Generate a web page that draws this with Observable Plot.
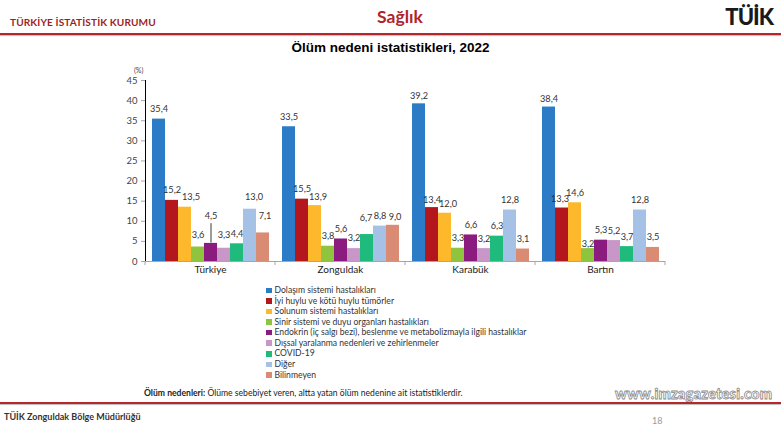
<!DOCTYPE html>
<html><head><meta charset="utf-8">
<script src="https://cdn.jsdelivr.net/npm/d3@7"></script>
<script src="https://cdn.jsdelivr.net/npm/@observablehq/plot@0.6"></script>
<style>
html,body{margin:0;padding:0;background:#fff}
#page{position:relative;width:781px;height:439px;overflow:hidden;font-family:Lato,"Open Sans",sans-serif}
.abs{position:absolute;white-space:nowrap}
#org{left:10px;top:16px;font-size:10.1px;font-weight:700;color:#9b1f24;letter-spacing:0.1px}
#sect{left:0;width:800px;text-align:center;top:6px;font-size:17.5px;font-weight:700;color:#b0242b}
#logo{right:8px;top:3px;font-size:22px;font-weight:900;color:#1a1a1a;letter-spacing:-1px}
#rule1{left:0;top:33px;width:781px;height:1.5px;background:#b8262d;box-shadow:0 1px 1px #bbb}
#title{left:0;width:781px;text-align:center;top:40px;font-family:"Liberation Sans",Arial,sans-serif;font-size:13.5px;font-weight:700;color:#000}
#pct{left:134px;top:66px;font-size:7px;color:#444}
#chart{position:absolute;left:0;top:0}
#legend{left:266px;top:285px;font-size:8.6px;color:#333}
#legend .row{height:10.58px;line-height:10.58px;display:flex;align-items:center}
#legend .sw{width:5.5px;height:5.5px;margin-right:3px}
#note{left:144px;top:388px;font-size:8.6px;color:#222}
#wm{left:615px;top:385px;font-size:14.6px;font-weight:900;color:#fff;-webkit-text-stroke:0.8px #8a8a8a;letter-spacing:0.2px}
#rule2{left:0;top:402px;width:781px;height:1.5px;background:#b8262d;box-shadow:0 1px 1px #bbb}
#foot{left:4px;top:411px;font-size:9px;font-weight:700;color:#333}
#page18{left:652px;top:415px;font-size:9px;color:#999}
</style></head><body>
<div id="page">
  <div class="abs" id="org">TÜRKİYE İSTATİSTİK KURUMU</div>
  <div class="abs" id="sect">Sağlık</div>
  <div class="abs" id="logo">TÜİK</div>
  <div class="abs" id="rule1"></div>
  <div class="abs" id="title">Ölüm nedeni istatistikleri, 2022</div>
  <div id="chart"></div>
  <div class="abs" id="pct">(%)</div>
  <div class="abs" id="legend"></div>
  <div class="abs" id="note"><b>Ölüm nedenleri:</b> Ölüme sebebiyet veren, altta yatan ölüm nedenine ait istatistiklerdir.</div>
  <div class="abs" id="wm">www.imzagazetesi.com</div>
  <div class="abs" id="rule2"></div>
  <div class="abs" id="foot">TÜİK Zonguldak Bölge Müdürlüğü</div>
  <div class="abs" id="page18">18</div>
</div>
<script>
const regions = ["Türkiye", "Zonguldak", "Karabük", "Bartın"];
const causes = [
  "Dolaşım sistemi hastalıkları",
  "İyi huylu ve kötü huylu tümörler",
  "Solunum sistemi hastalıkları",
  "Sinir sistemi ve duyu organları hastalıkları",
  "Endokrin (iç salgı bezi), beslenme ve metabolizmayla ilgili hastalıklar",
  "Dışsal yaralanma nedenleri ve zehirlenmeler",
  "COVID-19",
  "Diğer",
  "Bilinmeyen"
];
const colors = ["#2c7bc6", "#b3161c", "#fdb92b", "#8fc43e", "#8c1b7f", "#c996c8", "#1fbb7c", "#a5c1e5", "#da8b74"];
const yTicks = [0, 5, 10, 15, 20, 25, 30, 35, 40, 45];

// values per cause, in region order: Türkiye, Zonguldak, Karabük, Bartın
const dolasim   = [35.4, 33.5, 39.2, 38.4];
const tumor     = [15.2, 15.5, 13.4, 13.3];
const solunum   = [13.5, 13.9, 12.0, 14.6];
const sinir     = [3.6, 3.8, 3.3, 3.2];
const endokrin  = [4.5, 5.6, 6.6, 5.3];
const dissal    = [3.3, 3.2, 3.2, 5.2];
const covid     = [4.4, 6.7, 6.3, 3.7];
const diger     = [13.0, 8.8, 12.8, 12.8];
const bilinmeyen= [7.1, 9.0, 3.1, 3.5];
const series = [dolasim, tumor, solunum, sinir, endokrin, dissal, covid, diger, bilinmeyen];

const data = [];
regions.forEach((r, ri) => series.forEach((s, ci) => data.push({region: r, cause: causes[ci], value: s[ri]})));

const fmt = v => v.toFixed(1).replace(".", ",");

// label placement tweaks (Excel-style manual label offsets)
const key = d => d.region + "|" + causes.indexOf(d.cause);
const tweaks = {
  "Türkiye|2": {dx: 6, dy: -10},
  "Türkiye|3": {dx: 0, dy: -12},
  "Türkiye|4": {dx: 0, dy: -27},
  "Türkiye|5": {dx: 0, dy: -13},
  "Türkiye|7": {dx: 4, dy: -12},
  "Türkiye|8": {dx: 2, dy: -17},
  "Zonguldak|2": {dx: 3, dy: -9},
  "Zonguldak|5": {dx: 0, dy: -11},
  "Zonguldak|6": {dx: -1, dy: -17},
  "Zonguldak|8": {dx: 2, dy: -8},
  "Karabük|0": {dx: 0, dy: -8},
  "Karabük|1": {dx: 0, dy: -8},
  "Karabük|2": {dx: 3, dy: -9},
  "Bartın|0": {dx: 0, dy: -8},
  "Bartın|1": {dx: -2, dy: -9},
  "Bartın|3": {dx: 0, dy: -5}
};
const def = {dx: 0, dy: -10};
const groups = d3.group(data, d => JSON.stringify(tweaks[key(d)] || def));
const textMarks = [...groups].map(([k, rows]) => {
  const o = JSON.parse(k);
  return Plot.text(rows, {fx: "region", x: "cause", y: "value", text: d => fmt(d.value), dx: o.dx, dy: o.dy,
    fontSize: 9.2, fill: "#333", fontFamily: "Lato, sans-serif"});
});

const leader = data.filter(d => d.region === "Türkiye" && d.cause === causes[4]);

const plot = Plot.plot({
  width: 781, height: 439,
  marginTop: 80, marginBottom: 178, marginLeft: 145, marginRight: 116,
  style: {fontFamily: "Lato, sans-serif", background: "transparent", overflow: "visible"},
  fx: {domain: regions, padding: 0, axis: null, label: null},
  x: {domain: causes, paddingInner: 0, paddingOuter: 0.375, axis: null},
  y: {domain: [0, 45], ticks: yTicks, tickSize: 4, tickPadding: 4, label: null, line: true, tickFormat: d => d},
  color: {domain: causes, range: colors},
  marks: [
    Plot.barY(data, {fx: "region", x: "cause", y: "value", fill: "cause"}),
    Plot.ruleY([0], {stroke: "#a6a6a6"}),
    ...textMarks,
    Plot.ruleX(leader, {fx: "region", x: "cause", y1: d => d.value + 0.1, y2: d => d.value + 4.9, stroke: "#222", strokeWidth: 0.9}),
    Plot.text(regions, {fx: d => d, text: d => d, frameAnchor: "bottom", dy: 11, fontSize: 10, fill: "#222"})
  ]
});

// style y axis
d3.select(plot).selectAll("[aria-label='y-axis tick'] path, [aria-label='y-axis tick'], [aria-label='y-axis line'] line, [aria-label='y-axis line']")
  .attr("stroke", "#a6a6a6");
d3.select(plot).selectAll("[aria-label='y-axis tick label']").attr("font-size", 9.5).attr("fill", "#444");

// category boundary tick marks on the x axis
const fx = plot.scale("fx");
const yS = plot.scale("y");
const y0 = yS.apply(0);
const edges = regions.map(r => fx.apply(r)).concat([fx.apply(regions[3]) + fx.bandwidth]);
d3.select(plot).append("g").attr("stroke", "#a6a6a6")
  .selectAll("line").data(edges).join("line")
  .attr("x1", d => d).attr("x2", d => d).attr("y1", y0).attr("y2", y0 + 4);

document.getElementById("chart").append(plot);

const lg = d3.select("#legend");
causes.forEach((c, i) => {
  const row = lg.append("div").attr("class", "row");
  row.append("div").attr("class", "sw").style("background", colors[i]);
  row.append("span").text(c);
});
</script>
</body></html>
